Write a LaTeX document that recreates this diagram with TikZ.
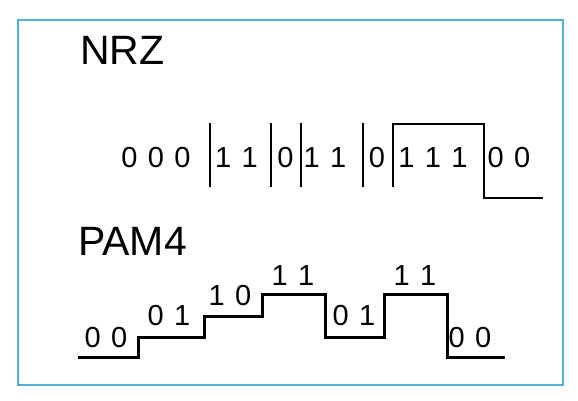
\documentclass[tikz,border=0pt]{standalone}
\usepackage{fontspec}
\setmainfont{Liberation Sans}
\definecolor{frameblue}{RGB}{80,176,216}
\newcommand{\dsp}{\hspace{10.4pt}}
\tikzset{
  title/.style={font=\fontsize{41}{41}\selectfont, inner sep=0pt, anchor=base west},
  bits/.style={font=\fontsize{29}{29}\selectfont, inner sep=0pt, anchor=base},
  nrzline/.style={line width=2pt, line join=miter},
  pamline/.style={line width=3pt, line join=miter},
}
\begin{document}
\begin{tikzpicture}[x=1pt,y=-1pt]
\useasboundingbox (0,0) rectangle (578,400);
\draw[frameblue, line width=2pt] (18,20) rectangle (563,385);

\node[title] (nrz) at (80,64) {NRZ};
\node[title] (pam) at (78,255) {PAM4};

% NRZ
\node[bits] (b1) at (156,167) {0\dsp0\dsp0};
\node[bits] (b2) at (236.5,167) {1\dsp1};
\node[bits] (b3) at (285.5,167) {0};
\node[bits] (b4) at (325,167) {1\dsp1};
\node[bits] (b5) at (377,167) {0};
\node[bits] (b6) at (433,167) {1\dsp1\dsp1};
\node[bits] (b7) at (509,167) {0\dsp0};
\foreach \x in {210,271,301,363} \draw[nrzline] (\x,123) -- (\x,187);
\draw[nrzline] (393,187) -- (393,124) -- (484,124) -- (484,198) -- (543,198);

% PAM4
\node[bits] (p1) at (106,347) {0\dsp0};
\node[bits] (p2) at (169,325) {0\dsp1};
\node[bits] (p3) at (230,305) {1\dsp0};
\node[bits] (p4) at (293,285) {1\dsp1};
\node[bits] (p5) at (354,325) {0\dsp1};
\node[bits] (p6) at (415,285) {1\dsp1};
\node[bits] (p7) at (470,347) {0\dsp0};
\draw[pamline] (78,357) -- (138,357) -- (138,337) -- (204,337) -- (204,316)
  -- (262,316) -- (262,294.5) -- (325,294.5) -- (325,337) -- (384,337)
  -- (384,294.5) -- (447,294.5) -- (447,357) -- (505,357);
\end{tikzpicture}
\end{document}
